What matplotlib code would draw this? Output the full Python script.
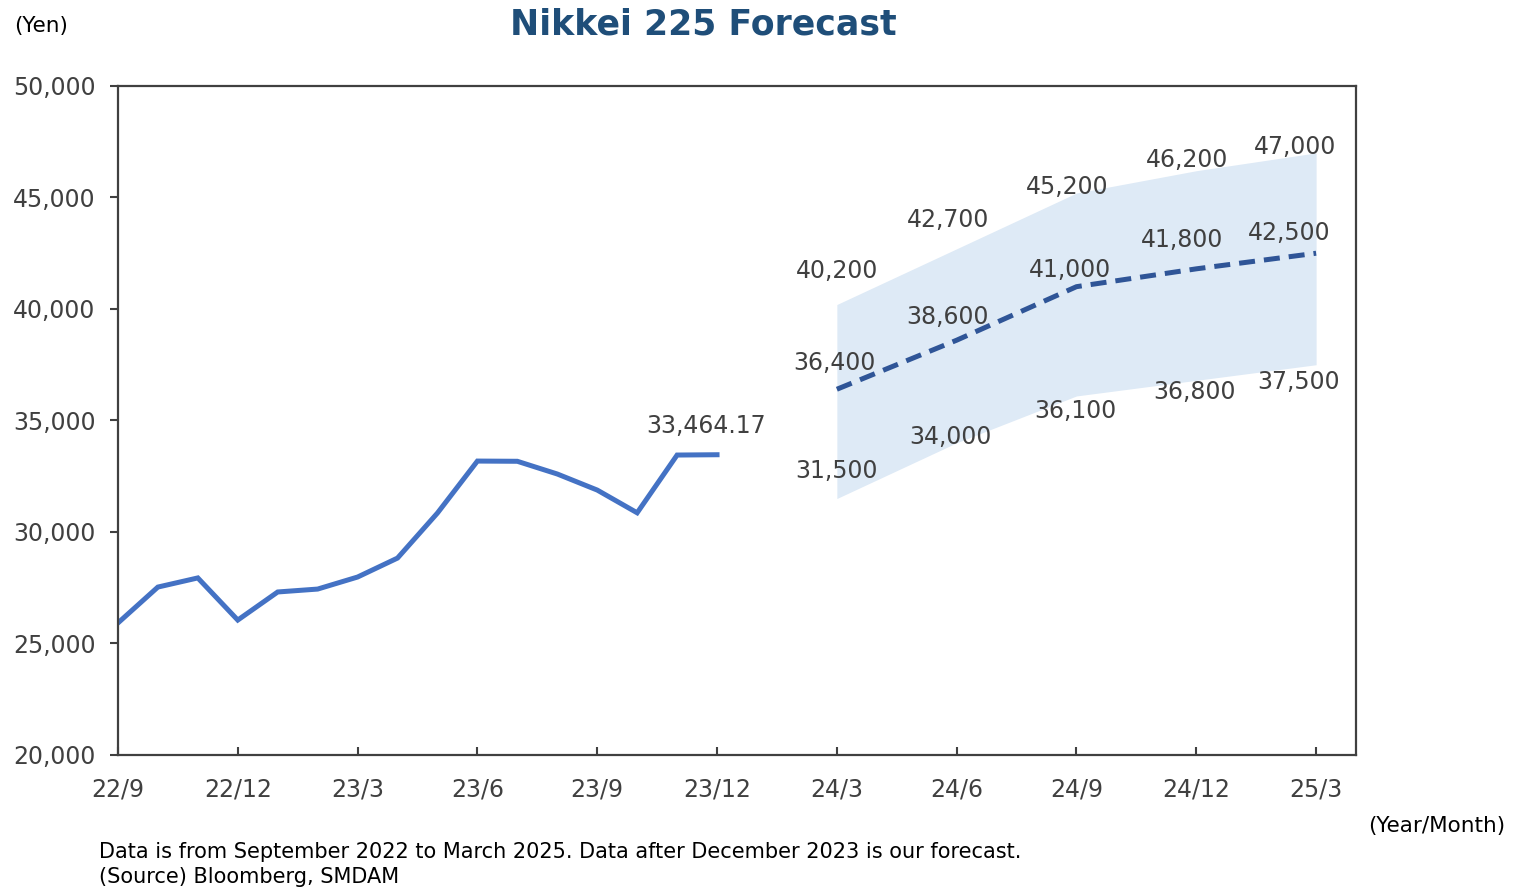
import numpy as np
import matplotlib.pyplot as plt

# monthly actuals, 22/9 .. 23/12 (month index 0..15)
actual_idx = list(range(16))
actual = [25920, 27530, 27940, 26050, 27310, 27440, 27980, 28830,
          30850, 33180, 33170, 32600, 31880, 30860, 33450, 33464.17]

# quarterly forecasts, 24/3 .. 25/3
fc_idx = [18, 21, 24, 27, 30]
fc_mid = [36400, 38600, 41000, 41800, 42500]
fc_high = [40200, 42700, 45200, 46200, 47000]
fc_low = [31500, 34000, 36100, 36800, 37500]

tick_idx = [0, 3, 6, 9, 12, 15, 18, 21, 24, 27, 30]
tick_labels = ["22/9", "22/12", "23/3", "23/6", "23/9", "23/12",
               "24/3", "24/6", "24/9", "24/12", "25/3"]

txt = "#404040"
plt.rcParams['font.family'] = ['DejaVu Sans']

fig = plt.figure(figsize=(15.16, 8.9), dpi=100)
ax = fig.add_axes([0.0778, 0.1517, 0.8167, 0.7517])

ax.fill_between(fc_idx, fc_low, fc_high, color="#DEEAF6", lw=0)
ax.plot(actual_idx, actual, color="#4472C4", lw=3.6, solid_joinstyle="miter")
ax.plot(fc_idx, fc_mid, color="#2F5597", lw=3.6, linestyle=(0, (3.2, 1.8)))

# label offsets in pixels (dx, dy)
off_mid = [(-2, 26), (-9, 23), (-6, 17), (-14, 29), (-27, 20)]
off_high = [(0, 34), (-9, 29), (-9, 6), (-9, 11), (-21, 6)]
off_low = [(0, 28), (-6, 6), (-1, -15), (-2, -12), (-18, -17)]

for vals, offs in [(fc_mid, off_mid), (fc_high, off_high), (fc_low, off_low)]:
    for x, v, o in zip(fc_idx, vals, offs):
        ax.annotate(f"{v:,}", (x, v), xytext=o, textcoords="offset pixels",
                    ha="center", va="center", fontsize=17, color=txt)
ax.annotate(f"{actual[-1]:,.2f}", (actual_idx[-1], actual[-1]), xytext=(-11, 29),
            textcoords="offset pixels", ha="center", va="center", fontsize=17, color=txt)

ax.set_xlim(0, 31)
ax.set_ylim(20000, 50000)
ax.set_xticks(tick_idx)
ax.set_xticklabels(tick_labels)
ax.set_yticks(np.arange(20000, 50001, 5000))
ax.yaxis.set_major_formatter(plt.FuncFormatter(lambda v, p: f"{int(v):,}"))
ax.tick_params(axis="x", direction="in", length=6, width=1.5, color=txt,
               labelsize=17, labelcolor=txt, pad=16)
ax.tick_params(axis="y", direction="out", length=6, width=1.5, color=txt,
               labelsize=17, labelcolor=txt, pad=10)
for s in ax.spines.values():
    s.set_color(txt)
    s.set_linewidth(1.6)

fig.text(0.464, 0.973, "Nikkei 225 Forecast", ha="center", va="center",
         fontsize=25, fontweight="bold", color="#1F4E79")
fig.text(0.009, 0.971, "(Yen)", ha="left", va="center", fontsize=15.5, color="black")
fig.text(0.993, 0.072, "(Year/Month)", ha="right", va="center", fontsize=15.5, color="black")
fig.text(0.065, 0.043, "Data is from September 2022 to March 2025. Data after December 2023 is our forecast.",
         ha="left", va="center", fontsize=15, color="black")
fig.text(0.065, 0.015, "(Source) Bloomberg, SMDAM",
         ha="left", va="center", fontsize=15, color="black")

fig.savefig("out.png", dpi=100)
